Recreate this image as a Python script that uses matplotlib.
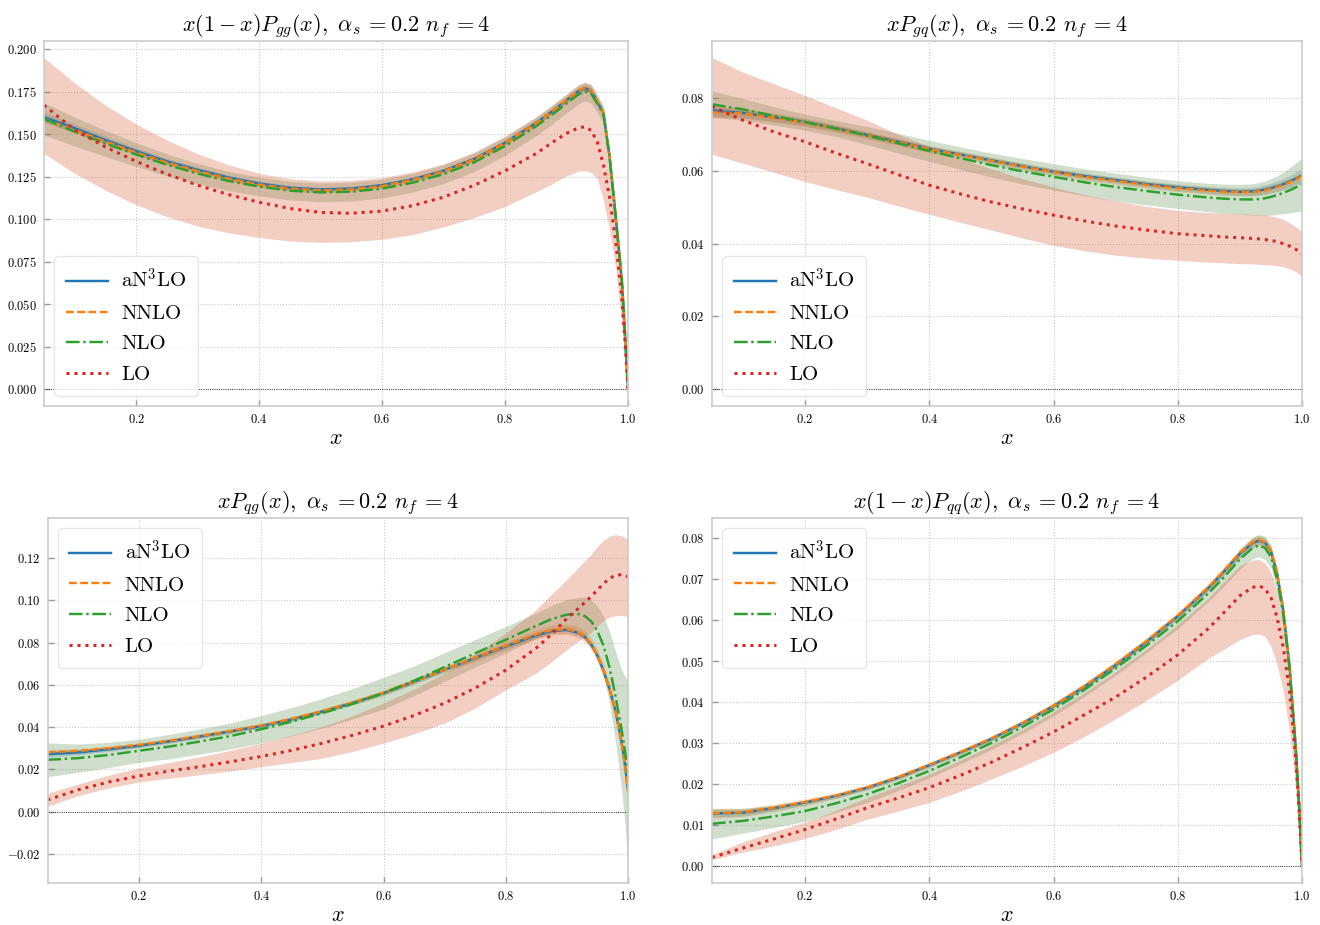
import matplotlib
matplotlib.use("Agg")
import matplotlib.pyplot as plt
from matplotlib.ticker import MultipleLocator
import numpy as np

plt.rcParams.update({
    "font.family": "serif",
    "font.serif": ["cmr10"],
    "mathtext.fontset": "cm",
    "axes.formatter.use_mathtext": True,
    "axes.unicode_minus": False,
})

# ---------------- data ----------------
x = [0.05, 0.1, 0.15, 0.2, 0.25, 0.3, 0.35, 0.4, 0.45, 0.5, 0.55, 0.6, 0.65, 0.7,
     0.75, 0.8, 0.85, 0.875, 0.9, 0.92, 0.93, 0.94, 0.95, 0.96, 0.97, 0.98, 0.99,
     0.995, 1.0]

labels = ["aN$^3$LO", "NNLO", "NLO", "LO"]
titles = [r"$x(1-x)P_{gg}(x),\ \alpha_s\:{=}$0.2 $n_f\:{=}$4",
          r"$xP_{gq}(x),\ \alpha_s\:{=}$0.2 $n_f\:{=}$4",
          r"$xP_{qg}(x),\ \alpha_s\:{=}$0.2 $n_f\:{=}$4",
          r"$x(1-x)P_{qq}(x),\ \alpha_s\:{=}$0.2 $n_f\:{=}$4"]

# --- panel gg ---
gg_an3lo = [0.1600, 0.1535, 0.1465, 0.1400, 0.1340, 0.1290, 0.1245, 0.1210, 0.1185, 0.1175,
            0.1180, 0.1200, 0.1235, 0.1285, 0.1355, 0.1450, 0.1565, 0.1630, 0.1700, 0.1755,
            0.1770, 0.1755, 0.1690, 0.1625, 0.1370, 0.1015, 0.0640, 0.0335, 0.0]
gg_nnlo = [0.1590, 0.1525, 0.1457, 0.1392, 0.1333, 0.1283, 0.1239, 0.1204, 0.1180, 0.1170,
           0.1175, 0.1195, 0.1231, 0.1282, 0.1352, 0.1448, 0.1563, 0.1630, 0.1702, 0.1758,
           0.1773, 0.1758, 0.1692, 0.1627, 0.1372, 0.1017, 0.0642, 0.0336, 0.0]
gg_nlo = [0.1590, 0.1515, 0.1445, 0.1380, 0.1320, 0.1268, 0.1225, 0.1192, 0.1168, 0.1158,
          0.1162, 0.1180, 0.1215, 0.1265, 0.1335, 0.1430, 0.1545, 0.1610, 0.1680, 0.1735,
          0.1750, 0.1738, 0.1680, 0.1618, 0.1365, 0.1012, 0.0640, 0.0334, 0.0]
gg_lo = [0.1670, 0.1525, 0.1425, 0.1340, 0.1265, 0.1200, 0.1145, 0.1100, 0.1063, 0.1040,
         0.1035, 0.1048, 0.1080, 0.1130, 0.1200, 0.1285, 0.1385, 0.1447, 0.1505, 0.1538,
         0.1543, 0.1522, 0.1455, 0.1320, 0.1130, 0.0870, 0.0540, 0.0290, 0.0]
gg_lo_hi = [0.1950, 0.1800, 0.1670, 0.1560, 0.1465, 0.1385, 0.1320, 0.1270, 0.1238, 0.1225,
            0.1228, 0.1245, 0.1278, 0.1325, 0.1395, 0.1488, 0.1600, 0.1665, 0.1735, 0.1790,
            0.1805, 0.1790, 0.1725, 0.1655, 0.1395, 0.1035, 0.0660, 0.0345, 0.0]
gg_lo_lo = [0.1385, 0.1270, 0.1170, 0.1085, 0.1015, 0.0960, 0.0920, 0.0893, 0.0872, 0.0864,
            0.0868, 0.0882, 0.0910, 0.0955, 0.1010, 0.1075, 0.1160, 0.1205, 0.1255, 0.1282,
            0.1285, 0.1275, 0.1240, 0.1110, 0.0940, 0.0710, 0.0370, 0.0190, 0.0]
gg_nlo_hw = [0.0095, 0.0085, 0.0077, 0.0070, 0.0065, 0.0060, 0.0057, 0.0055, 0.0055, 0.0055,
             0.0055, 0.0055, 0.0055, 0.0055, 0.0055, 0.0055, 0.0055, 0.0055, 0.0055, 0.0055,
             0.0055, 0.0055, 0.0053, 0.0050, 0.0045, 0.0035, 0.0025, 0.0015, 0.0]
gg_nnlo_hw = [0.0020, 0.0018, 0.0016, 0.0015, 0.0015, 0.0015, 0.0015, 0.0015, 0.0015, 0.0015,
              0.0015, 0.0015, 0.0015, 0.0015, 0.0015, 0.0015, 0.0015, 0.0015, 0.0015, 0.0015,
              0.0015, 0.0015, 0.0015, 0.0014, 0.0012, 0.0010, 0.0007, 0.0004, 0.0]
gg_an3lo_hw = [0.0030, 0.0026, 0.0023, 0.0020, 0.0018, 0.0016, 0.0015, 0.0014, 0.0013, 0.0012,
               0.0012, 0.0012, 0.0012, 0.0012, 0.0013, 0.0014, 0.0015, 0.0016, 0.0017, 0.0018,
               0.0018, 0.0018, 0.0017, 0.0016, 0.0014, 0.0011, 0.0008, 0.0004, 0.0]

# --- panel gq ---
gq_an3lo = [0.0765, 0.0758, 0.0746, 0.0733, 0.0716, 0.0698, 0.0679, 0.0660, 0.0644, 0.0628,
            0.0612, 0.0597, 0.0585, 0.0574, 0.0563, 0.0554, 0.0547, 0.0544, 0.0542, 0.0543,
            0.0545, 0.0548, 0.0552, 0.0557, 0.0563, 0.0570, 0.0578, 0.0582, 0.0587]
gq_nnlo = [0.0760, 0.0757, 0.0745, 0.0732, 0.0715, 0.0697, 0.0678, 0.0659, 0.0643, 0.0627,
           0.0611, 0.0596, 0.0583, 0.0572, 0.0561, 0.0552, 0.0545, 0.0542, 0.0541, 0.0541,
           0.0543, 0.0546, 0.0550, 0.0555, 0.0561, 0.0568, 0.0576, 0.0580, 0.0585]
gq_nlo = [0.0782, 0.0768, 0.0750, 0.0733, 0.0715, 0.0696, 0.0675, 0.0654, 0.0634, 0.0615,
          0.0598, 0.0583, 0.0568, 0.0555, 0.0544, 0.0534, 0.0526, 0.0523, 0.0521, 0.0521,
          0.0522, 0.0524, 0.0528, 0.0533, 0.0539, 0.0546, 0.0554, 0.0558, 0.0563]
gq_lo = [0.0776, 0.0738, 0.0706, 0.0679, 0.0648, 0.0619, 0.0589, 0.0560, 0.0536, 0.0514,
         0.0495, 0.0478, 0.0462, 0.0448, 0.0437, 0.0427, 0.0421, 0.0418, 0.0416, 0.0414,
         0.0413, 0.0411, 0.0409, 0.0405, 0.0400, 0.0393, 0.0384, 0.0378, 0.0371]
gq_lo_hi = [0.0910, 0.0870, 0.0838, 0.0806, 0.0772, 0.0738, 0.0700, 0.0665, 0.0633, 0.0605,
            0.0578, 0.0555, 0.0534, 0.0517, 0.0502, 0.0491, 0.0485, 0.0483, 0.0481, 0.0480,
            0.0479, 0.0478, 0.0476, 0.0472, 0.0466, 0.0457, 0.0446, 0.0440, 0.0433]
gq_lo_lo = [0.0645, 0.0620, 0.0595, 0.0570, 0.0548, 0.0527, 0.0503, 0.0480, 0.0458, 0.0437,
            0.0415, 0.0395, 0.0380, 0.0368, 0.0360, 0.0354, 0.0349, 0.0347, 0.0345, 0.0344,
            0.0343, 0.0342, 0.0341, 0.0339, 0.0336, 0.0331, 0.0323, 0.0317, 0.0309]
gq_nlo_hw = [0.0036, 0.0030, 0.0025, 0.0022, 0.0022, 0.0025, 0.0027, 0.0029, 0.0031, 0.0033,
             0.0035, 0.0036, 0.0037, 0.0038, 0.0038, 0.0038, 0.0039, 0.0040, 0.0041, 0.0043,
             0.0045, 0.0047, 0.0050, 0.0053, 0.0057, 0.0062, 0.0067, 0.0070, 0.0073]
gq_nnlo_hw = [0.0015, 0.0013, 0.0012, 0.0011, 0.0010, 0.0010, 0.0010, 0.0010, 0.0010, 0.0010,
              0.0010, 0.0010, 0.0010, 0.0010, 0.0010, 0.0010, 0.0010, 0.0010, 0.0010, 0.0010,
              0.0010, 0.0011, 0.0011, 0.0011, 0.0012, 0.0012, 0.0012, 0.0012, 0.0012]
gq_an3lo_hw = [0.0015, 0.0013, 0.0011, 0.0010, 0.0009, 0.0008, 0.0008, 0.0008, 0.0008, 0.0008,
               0.0008, 0.0008, 0.0008, 0.0008, 0.0008, 0.0009, 0.0009, 0.0010, 0.0010, 0.0011,
               0.0012, 0.0013, 0.0014, 0.0015, 0.0016, 0.0017, 0.0018, 0.0019, 0.0020]

# --- panel qg ---
qg_an3lo = [0.0272, 0.0280, 0.0295, 0.0312, 0.0333, 0.0356, 0.0380, 0.0405, 0.0437, 0.0474,
            0.0515, 0.0561, 0.0615, 0.0672, 0.0728, 0.0783, 0.0835, 0.0855, 0.0860, 0.0845,
            0.0825, 0.0790, 0.0738, 0.0665, 0.0578, 0.0470, 0.0320, 0.0220, 0.0100]
qg_nnlo = [0.0281, 0.0287, 0.0300, 0.0316, 0.0336, 0.0358, 0.0382, 0.0408, 0.0440, 0.0476,
           0.0517, 0.0563, 0.0616, 0.0673, 0.0730, 0.0786, 0.0840, 0.0860, 0.0864, 0.0848,
           0.0828, 0.0793, 0.0740, 0.0667, 0.0578, 0.0468, 0.0318, 0.0218, 0.0095]
qg_nlo = [0.0245, 0.0253, 0.0268, 0.0288, 0.0308, 0.0332, 0.0358, 0.0390, 0.0426, 0.0466,
          0.0511, 0.0561, 0.0620, 0.0685, 0.0750, 0.0814, 0.0880, 0.0912, 0.0933, 0.0935,
          0.0925, 0.0900, 0.0855, 0.0785, 0.0680, 0.0540, 0.0380, 0.0290, 0.0180]
qg_lo = [0.0055, 0.0103, 0.0140, 0.0169, 0.0192, 0.0213, 0.0236, 0.0261, 0.0290, 0.0324,
         0.0362, 0.0405, 0.0455, 0.0514, 0.0585, 0.0670, 0.0775, 0.0840, 0.0915, 0.0965,
         0.0992, 0.1020, 0.1050, 0.1080, 0.1105, 0.1120, 0.1122, 0.1118, 0.1112]
qg_lo_hi = [0.0087, 0.0130, 0.0172, 0.0206, 0.0233, 0.0260, 0.0290, 0.0324, 0.0362, 0.0403,
            0.0455, 0.0514, 0.0580, 0.0656, 0.0745, 0.0846, 0.0957, 0.1030, 0.1100, 0.1160,
            0.1190, 0.1220, 0.1257, 0.1285, 0.1305, 0.1312, 0.1305, 0.1298, 0.1290]
qg_lo_lo = [0.0025, 0.0075, 0.0112, 0.0140, 0.0158, 0.0174, 0.0192, 0.0213, 0.0232, 0.0253,
            0.0285, 0.0324, 0.0368, 0.0419, 0.0490, 0.0577, 0.0656, 0.0710, 0.0767, 0.0810,
            0.0830, 0.0850, 0.0880, 0.0905, 0.0922, 0.0928, 0.0928, 0.0926, 0.0925]
qg_nlo_hw = [0.0080, 0.0067, 0.0060, 0.0055, 0.0058, 0.0060, 0.0062, 0.0065, 0.0067, 0.0070,
             0.0072, 0.0075, 0.0070, 0.0068, 0.0065, 0.0063, 0.0060, 0.0065, 0.0072, 0.0080,
             0.0090, 0.0102, 0.0118, 0.0140, 0.0172, 0.0215, 0.0290, 0.0350, 0.0440]
qg_nnlo_hw = [0.0012, 0.0011, 0.0010, 0.0010, 0.0010, 0.0010, 0.0010, 0.0010, 0.0010, 0.0011,
              0.0012, 0.0013, 0.0014, 0.0015, 0.0017, 0.0019, 0.0021, 0.0023, 0.0025, 0.0027,
              0.0028, 0.0029, 0.0030, 0.0031, 0.0032, 0.0033, 0.0034, 0.0035, 0.0036]
qg_an3lo_hw = [0.0015, 0.0013, 0.0011, 0.0010, 0.0010, 0.0010, 0.0010, 0.0010, 0.0010, 0.0010,
               0.0010, 0.0010, 0.0010, 0.0011, 0.0012, 0.0013, 0.0014, 0.0015, 0.0016, 0.0016,
               0.0016, 0.0016, 0.0016, 0.0016, 0.0017, 0.0018, 0.0019, 0.0020, 0.0020]

# --- panel qq ---
qq_an3lo = [0.0129, 0.0131, 0.0142, 0.0156, 0.0172, 0.0192, 0.0217, 0.0247, 0.0278, 0.0311,
            0.0349, 0.0391, 0.0438, 0.0491, 0.0548, 0.0610, 0.0680, 0.0720, 0.0762, 0.0788,
            0.0794, 0.0790, 0.0768, 0.0713, 0.0622, 0.0488, 0.0288, 0.0158, 0.0]
qq_nnlo = [0.0130, 0.0132, 0.0143, 0.0157, 0.0173, 0.0193, 0.0218, 0.0248, 0.0279, 0.0312,
           0.0350, 0.0392, 0.0440, 0.0493, 0.0550, 0.0612, 0.0682, 0.0722, 0.0764, 0.0790,
           0.0796, 0.0791, 0.0770, 0.0715, 0.0624, 0.0490, 0.0290, 0.0160, 0.0]
qq_nlo = [0.0104, 0.0111, 0.0122, 0.0135, 0.0154, 0.0176, 0.0203, 0.0233, 0.0266, 0.0301,
          0.0340, 0.0383, 0.0431, 0.0483, 0.0539, 0.0598, 0.0667, 0.0706, 0.0749, 0.0776,
          0.0782, 0.0777, 0.0755, 0.0700, 0.0612, 0.0480, 0.0285, 0.0157, 0.0]
qq_lo = [0.0022, 0.0045, 0.0067, 0.0090, 0.0116, 0.0143, 0.0167, 0.0192, 0.0222, 0.0254,
         0.0290, 0.0328, 0.0370, 0.0413, 0.0462, 0.0516, 0.0581, 0.0620, 0.0660, 0.0680,
         0.0684, 0.0678, 0.0655, 0.0606, 0.0532, 0.0426, 0.0262, 0.0145, 0.0]
qq_lo_hi = [0.0029, 0.0060, 0.0085, 0.0108, 0.0137, 0.0168, 0.0196, 0.0225, 0.0259, 0.0295,
            0.0334, 0.0377, 0.0424, 0.0475, 0.0530, 0.0590, 0.0655, 0.0695, 0.0733, 0.0747,
            0.0748, 0.0741, 0.0717, 0.0671, 0.0590, 0.0467, 0.0278, 0.0150, 0.0]
qq_lo_lo = [0.0016, 0.0035, 0.0050, 0.0068, 0.0090, 0.0115, 0.0135, 0.0156, 0.0183, 0.0213,
            0.0244, 0.0278, 0.0317, 0.0360, 0.0405, 0.0454, 0.0508, 0.0530, 0.0553, 0.0565,
            0.0567, 0.0561, 0.0536, 0.0491, 0.0426, 0.0328, 0.0188, 0.0100, 0.0]
qq_nlo_hw = [0.0037, 0.0030, 0.0027, 0.0025, 0.0022, 0.0020, 0.0018, 0.0017, 0.0016, 0.0016,
             0.0016, 0.0016, 0.0016, 0.0017, 0.0017, 0.0018, 0.0020, 0.0022, 0.0024, 0.0026,
             0.0027, 0.0028, 0.0028, 0.0027, 0.0025, 0.0022, 0.0016, 0.0010, 0.0]
qq_nnlo_hw = [0.0012, 0.0010, 0.0009, 0.0008, 0.0007, 0.0006, 0.0006, 0.0006, 0.0006, 0.0006,
              0.0006, 0.0006, 0.0007, 0.0007, 0.0008, 0.0008, 0.0009, 0.0010, 0.0011, 0.0012,
              0.0012, 0.0012, 0.0012, 0.0011, 0.0010, 0.0008, 0.0006, 0.0003, 0.0]
qq_an3lo_hw = [0.0009, 0.0008, 0.0007, 0.0006, 0.0005, 0.0005, 0.0005, 0.0005, 0.0005, 0.0005,
               0.0005, 0.0005, 0.0006, 0.0006, 0.0007, 0.0007, 0.0008, 0.0009, 0.0010, 0.0010,
               0.0010, 0.0010, 0.0010, 0.0009, 0.0008, 0.0007, 0.0005, 0.0003, 0.0]

panels = [
    dict(c=[gg_an3lo, gg_nnlo, gg_nlo, gg_lo], hw=[gg_an3lo_hw, gg_nnlo_hw, gg_nlo_hw],
         lo=[gg_lo_lo, gg_lo_hi], step=0.025, loc="lower left"),
    dict(c=[gq_an3lo, gq_nnlo, gq_nlo, gq_lo], hw=[gq_an3lo_hw, gq_nnlo_hw, gq_nlo_hw],
         lo=[gq_lo_lo, gq_lo_hi], step=0.02, loc="lower left"),
    dict(c=[qg_an3lo, qg_nnlo, qg_nlo, qg_lo], hw=[qg_an3lo_hw, qg_nnlo_hw, qg_nlo_hw],
         lo=[qg_lo_lo, qg_lo_hi], step=0.02, loc="upper left"),
    dict(c=[qq_an3lo, qq_nnlo, qq_nlo, qq_lo], hw=[qq_an3lo_hw, qq_nnlo_hw, qq_nlo_hw],
         lo=[qq_lo_lo, qq_lo_hi], step=0.01, loc="upper left"),
]

# ---------------- styling ----------------
W, H = 1320, 925
fig = plt.figure(figsize=(W / 100, H / 100), dpi=100)
rects = [(44, 41, 628, 406), (712, 41, 1302, 406), (47.5, 518, 628, 883), (712, 518, 1302, 883)]

line_colors = ["#1f77b4", "#ff7f0e", "#2ca02c", "#d62728"]
line_dashes = [None, (3.2, 1.4), (5.6, 1.5, 1.0, 1.5), (1.0, 1.6)]
line_widths = [1.75, 1.75, 1.75, 2.2]
band_colors = ["#1f77b4", "#ff7f0e", "#4f8a45", "#d9603b"]
band_alphas = [0.22, 0.25, 0.27, 0.30]

X = np.array(x)
for p, (l, t, r, b), title in zip(panels, rects, titles):
    ax = fig.add_axes([l / W, 1 - b / H, (r - l) / W, (b - t) / H])
    # bands
    for k in range(3):
        c = np.array(p["c"][k]); h = np.array(p["hw"][k])
        ax.fill_between(X, c - h, c + h, color=band_colors[k], alpha=band_alphas[k], lw=0)
    ax.fill_between(X, p["lo"][0], p["lo"][1], color=band_colors[3], alpha=band_alphas[3], lw=0)
    # lines
    for k in range(4):
        ln, = ax.plot(X, p["c"][k], color=line_colors[k], lw=line_widths[k], label=labels[k])
        if line_dashes[k] is not None:
            ln.set_dashes(line_dashes[k])
    ax.axhline(0, color="k", ls=":", lw=0.6, zorder=1)
    ax.set_xlim(0.05, 1.0)
    ax.margins(y=0.05)
    ax.xaxis.set_major_locator(MultipleLocator(0.2))
    ax.yaxis.set_major_locator(MultipleLocator(p["step"]))
    ax.grid(True, ls=":", color="#c8c8c8", lw=0.8)
    ax.set_axisbelow(True)
    for s in ax.spines.values():
        s.set_color("#cccccc")
        s.set_linewidth(1.2)
    ax.tick_params(direction="in", length=4, width=1.0, color="#999999",
                   labelsize=9, pad=5)
    ax.set_title(title, fontsize=16, pad=7)
    ax.set_xlabel("$x$", fontsize=16, labelpad=2)
    ax.legend(loc=p["loc"], fontsize=15, framealpha=0.8, edgecolor="#e0e0e0",
              labelspacing=0.58, borderpad=0.55, handletextpad=0.65)

fig.savefig("out.png", dpi=100)
